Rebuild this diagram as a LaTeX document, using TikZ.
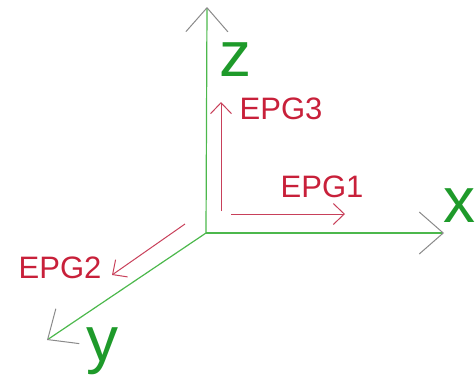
\documentclass[tikz,border=0pt]{standalone}
\usepackage{fontspec}
\setmainfont{Liberation Sans}
\usetikzlibrary{arrows.meta}
\definecolor{AxisGreen}{HTML}{4CB84C}
\definecolor{LabelGreen}{HTML}{1E9A2A}
\definecolor{EpgRed}{HTML}{C8203A}
\definecolor{EpgLine}{HTML}{C8405A}
\definecolor{TipGray}{HTML}{8A8A8A}
\tikzset{
  axis/.style={line width=1.2pt,draw=AxisGreen,
    -{Straight Barb[length=24pt,width=42pt,color=TipGray,line width=1pt]}},
  epgarrow/.style={line width=1pt,draw=EpgLine,
    -{Straight Barb[length=11pt,width=21pt]}},
  axislabel/.style={text=LabelGreen,inner sep=0pt,font=\fontsize{64}{64}\selectfont},
  epglabel/.style={text=EpgRed,inner sep=0pt,font=\fontsize{31}{31}\selectfont}
}
\begin{document}
\begin{tikzpicture}[x=1pt,y=-1pt]
  \useasboundingbox (0,0) rectangle (476,381);

  % axes
  \coordinate (origin) at (206,233);
  \coordinate (xtip) at (444,233);
  \coordinate (ytip) at (47,340);
  \coordinate (ztip) at (207,7);
  \draw[axis] (origin) -- (xtip);
  \draw[axis] (origin) -- (ytip);
  \draw[axis] (origin) -- (ztip);

  \node[axislabel] (xlabel) at (459.5,206) {x};
  \node[axislabel] (ylabel) at (102,351) {y};
  \node[axislabel] (zlabel) at (235,60) {z};

  % EPG directions
  \coordinate (epgonestart) at (231,214);
  \coordinate (epgoneend) at (345,214);
  \coordinate (epgtwostart) at (185,224);
  \coordinate (epgtwoend) at (112,275);
  \coordinate (epgthreestart) at (221,211);
  \coordinate (epgthreeend) at (221,102);
  \draw[epgarrow] (epgonestart) -- (epgoneend);
  \draw[epgarrow] (epgtwostart) -- (epgtwoend);
  \draw[epgarrow] (epgthreestart) -- (epgthreeend);

  \node[epglabel] (epgone) at (322,187) {EPG1};
  \node[epglabel] (epgtwo) at (60,268) {EPG2};
  \node[epglabel] (epgthree) at (281,109) {EPG3};
\end{tikzpicture}
\end{document}
